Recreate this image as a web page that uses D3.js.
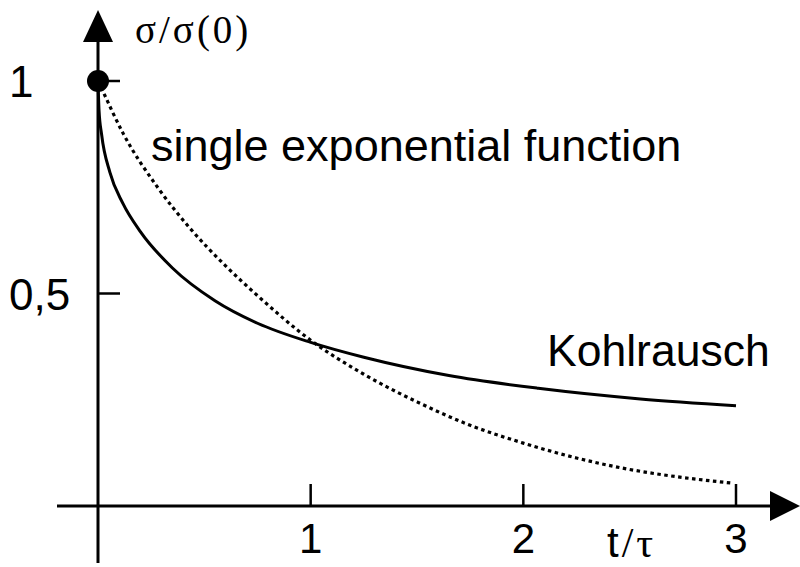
<!DOCTYPE html>
<html>
<head>
<meta charset="utf-8">
<script src="https://cdn.jsdelivr.net/npm/d3@7"></script>
<style>
  body { margin: 0; background: #fff; }
  text { fill: #000; }
</style>
</head>
<body>
<script>
// set width and height for the svg element
var width = 800,
    height = 567;

// values: t/tau and sigma/sigma(0)
var kohlT   = [0, 0.005, 0.017, 0.056, 0.117, 0.2, 0.35, 0.55, 0.75, 1.0, 1.25, 1.65, 2.07, 2.55, 3.0];
var kohlVal = [1.0, 0.93, 0.874, 0.785, 0.712, 0.645, 0.56, 0.483, 0.43, 0.385, 0.35, 0.307, 0.277, 0.252, 0.236];

var expT   = [0.015, 0.12, 0.28, 0.43, 0.6, 0.75, 1.0, 1.25, 1.5, 1.75, 2.0, 2.25, 2.5, 2.75, 2.98];
var expVal = [0.985, 0.875, 0.75, 0.655, 0.565, 0.495, 0.39, 0.31, 0.245, 0.19, 0.148, 0.113, 0.086, 0.067, 0.054];

var xTicks = [1, 2, 3];
var yTicks = [1, 0.5];
var yTickLabels = ["1", "0,5"];

var svg = d3.select("body").append("svg")
    .attr("width", width)
    .attr("height", height);

// scales
var x = d3.scaleLinear().domain([0, 3]).range([98, 736]);
var y = d3.scaleLinear().domain([0, 1]).range([506, 81]);

var sans = "Arial, 'Liberation Sans', sans-serif";
var serif = "'Times New Roman', 'Liberation Serif', serif";

// axes with arrow heads
svg.append("line")
    .attr("x1", x(0)).attr("x2", x(0))
    .attr("y1", 563).attr("y2", 40)
    .attr("stroke", "#000").attr("stroke-width", 3);
svg.append("path")
    .attr("d", "M" + (x(0) - 15) + ",42L" + (x(0) + 15) + ",42L" + x(0) + ",10Z")
    .attr("fill", "#000");

svg.append("line")
    .attr("x1", 57).attr("x2", 772)
    .attr("y1", y(0)).attr("y2", y(0))
    .attr("stroke", "#000").attr("stroke-width", 3);
svg.append("path")
    .attr("d", "M770," + (y(0) - 15) + "L770," + (y(0) + 15) + "L800," + y(0) + "Z")
    .attr("fill", "#000");

// x ticks point up, labels below
svg.selectAll(".xtick")
  .data(xTicks)
  .enter().append("line")
    .attr("class", "xtick")
    .attr("x1", function(d) { return x(d); })
    .attr("x2", function(d) { return x(d); })
    .attr("y1", y(0))
    .attr("y2", y(0) - 22)
    .attr("stroke", "#000").attr("stroke-width", 2.5);

svg.selectAll(".xlabel")
  .data(xTicks)
  .enter().append("text")
    .attr("class", "xlabel")
    .attr("x", function(d) { return x(d); })
    .attr("y", 553)
    .attr("text-anchor", "middle")
    .attr("font-family", sans)
    .attr("font-size", 42)
    .text(function(d) { return d; });

// y ticks point right, labels on the left
svg.selectAll(".ytick")
  .data(yTicks)
  .enter().append("line")
    .attr("class", "ytick")
    .attr("x1", x(0))
    .attr("x2", x(0) + 22)
    .attr("y1", function(d) { return y(d); })
    .attr("y2", function(d) { return y(d); })
    .attr("stroke", "#000").attr("stroke-width", 2.5);

svg.selectAll(".ylabel")
  .data(yTicks)
  .enter().append("text")
    .attr("class", "ylabel")
    .attr("x", 9)
    .attr("y", function(d) { return y(d) + 16; })
    .attr("font-family", sans)
    .attr("font-size", 44)
    .text(function(d, i) { return yTickLabels[i]; });

// curves
var line = d3.line()
    .x(function(d) { return x(d[0]); })
    .y(function(d) { return y(d[1]); })
    .curve(d3.curveMonotoneX);

svg.append("path")
    .datum(d3.zip(expT, expVal))
    .attr("d", line)
    .attr("fill", "none")
    .attr("stroke", "#000")
    .attr("stroke-width", 3.2)
    .attr("stroke-dasharray", "3.5,3.5");

svg.append("path")
    .datum(d3.zip(kohlT, kohlVal))
    .attr("d", line)
    .attr("fill", "none")
    .attr("stroke", "#000")
    .attr("stroke-width", 3);

// starting point
svg.append("circle")
    .attr("cx", x(0))
    .attr("cy", y(1))
    .attr("r", 11)
    .attr("fill", "#000");

// axis titles
svg.append("text")
    .attr("x", 135)
    .attr("y", 43)
    .attr("font-family", serif)
    .attr("font-size", 39)
    .attr("letter-spacing", 3)
    .text("σ/σ(0)");

var tl = svg.append("text")
    .attr("x", 607)
    .attr("y", 557)
    .attr("font-size", 42)
    .attr("letter-spacing", 3);
tl.append("tspan").attr("font-family", sans).text("t");
tl.append("tspan").attr("font-family", serif).text("/τ");

// curve labels
svg.append("text")
    .attr("x", 151)
    .attr("y", 161)
    .attr("font-family", sans)
    .attr("font-size", 45)
    .text("single exponential function");

svg.append("text")
    .attr("x", 547)
    .attr("y", 366)
    .attr("font-family", sans)
    .attr("font-size", 44.5)
    .text("Kohlrausch");
</script>
</body>
</html>
